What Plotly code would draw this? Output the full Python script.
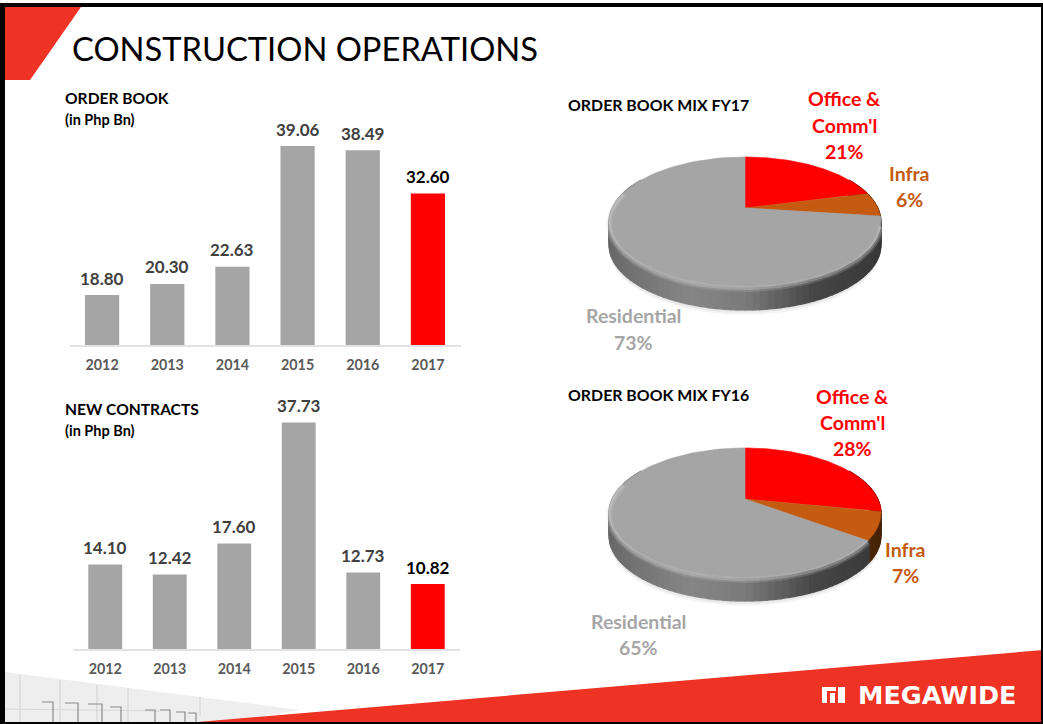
import numpy as np
import plotly.graph_objects as go

W, H = 1043, 724
years = ["2012", "2013", "2014", "2015", "2016", "2017"]
order_book = [18.80, 20.30, 22.63, 39.06, 38.49, 32.60]
new_contracts = [14.10, 12.42, 17.60, 37.73, 12.73, 10.82]
mix_names = ["Office & Comm'l", "Infra", "Residential"]
mix_fy17 = [21, 6, 73]
mix_fy16 = [28, 7, 65]

GRAY, RED, ORANGE = "#a5a5a5", "#ff0000", "#c55a11"
FONT = "Lato"
SIDE = {GRAY: (1, 1, 1), RED: (1.6, 0.0, 0.0), ORANGE: (1.25, 0.62, 0.1)}


def px_dom(a, b, size):
    return [a / size, b / size]


fig = go.Figure()
annotations = []


def add_bars(values, xa, ya):
    fig.add_trace(go.Bar(
        x=years, y=values, xaxis=xa, yaxis=ya,
        marker=dict(color=[GRAY] * 5 + [RED], line=dict(width=0)),
        hoverinfo="skip", showlegend=False))
    for i, v in enumerate(values):
        annotations.append(dict(x=i, y=v, xref=xa, yref=ya, text=f"{v:.2f}", showarrow=False,
                                yanchor="middle", yshift=17,
                                font=dict(family=FONT, size=17, weight=700,
                                          color="#000000" if i == 5 else "#404040")))


add_bars(order_book, "x", "y")
add_bars(new_contracts, "x2", "y2")


def rim(theta, apex_y, cx=745.0, R=132.8, S=62.0, k=0.215):
    u, v = np.sin(theta), -np.cos(theta)
    d = 1 - k * v
    return cx + R * u / d, apex_y + S * v / d


def add_pie(shares, apex_y, depth=23):
    total = sum(shares)
    edges = np.cumsum([0] + shares) / total * 2 * np.pi
    colors = [RED, ORANGE, GRAY]
    # soft ground shadow
    t = np.linspace(0, 2 * np.pi, 121)
    x, y = rim(t, apex_y)
    for grow, alpha in ((5, 0.04), (3, 0.05), (1, 0.08)):
        fig.add_trace(go.Scatter(x=x, y=y + depth + grow, xaxis="x3", yaxis="y3", mode="lines",
                                 fill="toself", fillcolor=f"rgba(0,0,0,{alpha})", line=dict(width=0),
                                 hoverinfo="skip", showlegend=False))
    # extruded side, shaded from left to right
    steps = np.linspace(np.radians(60), np.radians(300), 97)
    for a, b in zip(steps[:-1], steps[1:]):
        mid = (a + b) / 2
        idx = int(np.searchsorted(edges, mid, side="right") - 1)
        c = colors[min(idx, 2)]
        xa, ya = rim(np.array([a, b]), apex_y)
        tt = (np.mean(xa) - 609) / 272
        level = np.interp(tt, [0, 0.08, 0.3, 0.5, 0.75, 1], [104, 114, 134, 122, 70, 56])
        m = SIDE[c]
        col = f"rgb({min(level * m[0], 255):.0f},{level * m[1]:.0f},{level * m[2]:.0f})"
        fig.add_trace(go.Scatter(x=[xa[0], xa[1], xa[1], xa[0], xa[0]],
                                 y=[ya[0], ya[1], ya[1] + depth, ya[0] + depth, ya[0]],
                                 xaxis="x3", yaxis="y3", mode="lines", fill="toself", fillcolor=col,
                                 line=dict(width=1.2, color=col), hoverinfo="skip", showlegend=False))
    # top face wedges
    for i, c in enumerate(colors):
        t = np.linspace(edges[i], edges[i + 1], 90)
        x, y = rim(t, apex_y)
        fig.add_trace(go.Scatter(x=np.r_[745.0, x, 745.0], y=np.r_[apex_y, y, apex_y],
                                 xaxis="x3", yaxis="y3", mode="lines", fill="toself", fillcolor=c,
                                 line=dict(width=0.6, color=c), hoverinfo="skip", showlegend=False,
                                 name=mix_names[i]))
    # bevel highlight on the lower rim
    t = np.linspace(max(edges[2], np.radians(105)), np.radians(285), 100)
    x, y = rim(t, apex_y)
    for lw, alpha, off in ((6, 0.18, 2.0), (3, 0.30, 1.5)):
        fig.add_trace(go.Scatter(x=x, y=y + off, xaxis="x3", yaxis="y3", mode="lines",
                                 line=dict(width=lw, color=f"rgba(215,215,215,{alpha})"),
                                 hoverinfo="skip", showlegend=False))


add_pie(mix_fy17, 208)
add_pie(mix_fy16, 499)

shapes = []


def poly(pts, fill=None, line=None, lw=1, layer="below"):
    path = "M" + "L".join(f"{x},{y}" for x, y in pts) + ("Z" if fill else "")
    shapes.append(dict(type="path", path=path, xref="x3", yref="y3", layer=layer,
                       fillcolor=fill or "rgba(0,0,0,0)",
                       line=dict(width=lw if line else 0, color=line or "rgba(0,0,0,0)")))


# building sketch (background image stand-in)
poly([(5, 672), (130, 688), (200, 697), (300, 710), (230, 722), (5, 722)], fill="#eeeeee")
for x0, y0, y1 in [(20, 675, 722), (60, 680, 722), (97, 685, 722), (128, 688, 722), (200, 697, 716)]:
    poly([(x0, y0), (x0, y1)], line="#d0d0d0")
poly([(5, 709), (160, 711)], line="#d8d8d8")
for a, b, y in [(42, 53, 702), (65, 78, 703), (88, 102, 704), (110, 121, 707),
                (145, 155, 710), (160, 170, 710), (176, 185, 712), (188, 196, 713)]:
    poly([(a, y), (b, y), (b, 722)], line="#8a8a8a", lw=1.2)

# red slide furniture
poly([(5, 7), (81, 7), (30, 80), (5, 80)], fill="#ee3224")
poly([(1043, 650), (1043, 722), (198, 722)], fill="#ee3224")

# logo mark
for x0, y0, x1, y1 in [(822, 687, 836, 691), (822, 691, 827, 703), (830, 693, 835, 703), (838, 687, 845, 703)]:
    poly([(x0, y0), (x1, y0), (x1, y1), (x0, y1)], fill="#ffffff")

# slide border
for x0, y0, x1, y1 in [(0, 3, 1043, 7), (0, 3, 5, 724), (0, 722, 1043, 724), (1041, 3, 1043, 724)]:
    poly([(x0, y0), (x1, y0), (x1, y1), (x0, y1)], fill="#000000", layer="above")


def label(x, y, text, size, color="#000000", bold=True, anchor="center", family=FONT):
    annotations.append(dict(x=x, y=y, xref="x3", yref="y3", text=text, showarrow=False,
                            xanchor=anchor, yanchor="middle",
                            font=dict(family=family, size=size, color=color, weight=700 if bold else 400)))


label(70, 48, "CONSTRUCTION OPERATIONS", 32.7, bold=False, anchor="left")
label(63, 98, "ORDER BOOK", 15.6, anchor="left")
label(63, 119, "(in Php Bn)", 14.5, anchor="left")
label(63, 409, "NEW CONTRACTS", 15.6, anchor="left")
label(63, 430, "(in Php Bn)", 14.5, anchor="left")
label(566, 104, "ORDER BOOK MIX FY17", 15.9, anchor="left")
label(566, 394, "ORDER BOOK MIX FY16", 15.9, anchor="left")

for x, y, t, c in [
    (844, 98, "Office &", RED), (844, 125, "Comm'l", RED), (844, 151, f"{mix_fy17[0]}%", RED),
    (909, 173, "Infra", ORANGE), (909, 199, f"{mix_fy17[1]}%", ORANGE),
    (633, 315, "Residential", "#a6a6a6"), (633, 342, f"{mix_fy17[2]}%", "#a6a6a6"),
    (852, 396, "Office &", RED), (852, 422, "Comm'l", RED), (852, 448, f"{mix_fy16[0]}%", RED),
    (905, 549, "Infra", ORANGE), (905, 575, f"{mix_fy16[1]}%", ORANGE),
    (638, 621, "Residential", "#a6a6a6"), (638, 647, f"{mix_fy16[2]}%", "#a6a6a6"),
]:
    label(x, y, t, 19.5, c)

label(1019, 695, "MEGAWIDE", 25.5, "#ffffff", anchor="right", family="DejaVu Sans")

tick_font = dict(family=FONT, size=14.3, weight=700, color="#595959")
cat_axis = dict(type="category", categoryorder="array", categoryarray=years, range=[-0.5, 5.5],
                showgrid=False, zeroline=False, showline=True, linecolor="#e2e2e2",
                linewidth=2, ticks="", tickfont=tick_font, ticklabelstandoff=6, fixedrange=True)
val_axis = dict(visible=False, showgrid=False, zeroline=False, fixedrange=True)

fig.update_layout(
    width=W, height=H, margin=dict(l=0, r=0, t=0, b=0, pad=0), autosize=False,
    paper_bgcolor="#ffffff", plot_bgcolor="rgba(0,0,0,0)", bargap=0.475,
    xaxis=dict(cat_axis, domain=px_dom(69.5, 460.5, W), anchor="y"),
    yaxis=dict(val_axis, domain=px_dom(H - 345, H - 130, H), range=[12, 41.25], anchor="x"),
    xaxis2=dict(cat_axis, domain=px_dom(73, 460, W), anchor="y2"),
    yaxis2=dict(val_axis, domain=px_dom(H - 649, H - 400, H), range=[0, 41.5], anchor="x2"),
    xaxis3=dict(visible=False, domain=[0, 1], range=[0, W], anchor="y3", fixedrange=True),
    yaxis3=dict(visible=False, domain=[0, 1], range=[H, 0], anchor="x3", fixedrange=True),
    shapes=shapes, annotations=annotations, showlegend=False,
)
fig.write_html("out.html", config=dict(displayModeBar=False),
               post_script="document.body.style.margin='0';")
